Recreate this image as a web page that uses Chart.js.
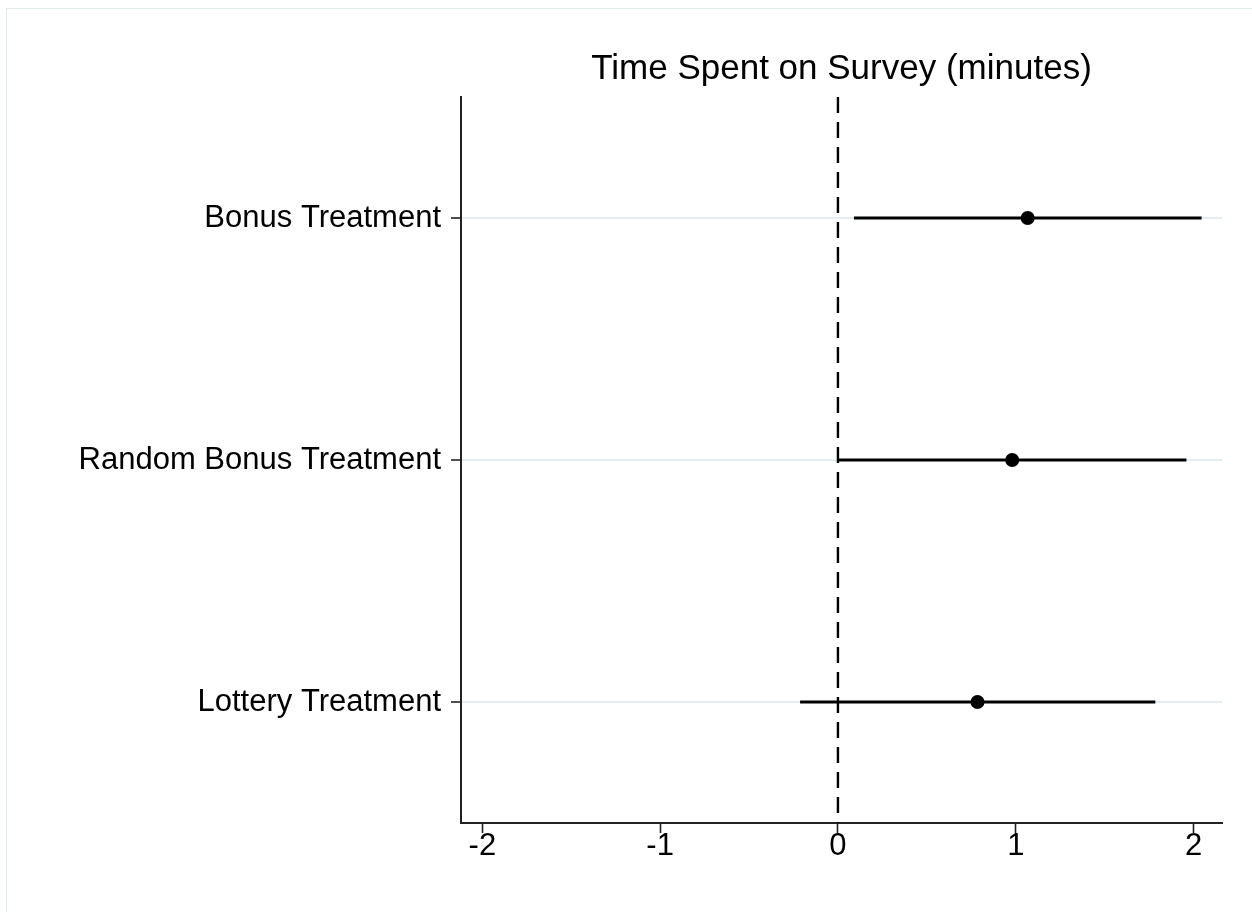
<!DOCTYPE html>
<html>
<head>
<meta charset="utf-8">
<title>Time Spent on Survey</title>
<script src="https://cdn.jsdelivr.net/npm/chart.js@4"></script>
<style>
  html, body { margin: 0; padding: 0; background: #fff; }
  #wrap { position: relative; width: 1252px; height: 912px; }
  #chart { display: block; }
  #frame {
    position: absolute; left: 6px; top: 8px; right: 0; bottom: 0;
    border-left: 1px solid #e3eded; border-top: 1px solid #e3eded;
    pointer-events: none;
  }
</style>
</head>
<body>
<div id="wrap">
  <canvas id="chart" width="1252" height="912"></canvas>
  <div id="frame"></div>
</div>
<script>
// ==========================================
//  COEFFICIENT PLOT: TIME SPENT ON SURVEY
// ==========================================

// --- data ---
var CATEGORIES = ['Bonus Treatment', 'Random Bonus Treatment', 'Lottery Treatment'];
var ESTIMATES  = [1.067, 0.98, 0.785];
var CI_LOW     = [0.09, 0.0, -0.213];
var CI_HIGH    = [2.045, 1.96, 1.785];
var X_TICKS    = [-2, -1, 0, 1, 2];
var X_MIN = -2.12, X_MAX = 2.16;

var FONT_NAME = "'Liberation Sans', Arial, Helvetica, sans-serif";
var INK       = '#000';
var AXIS      = '#222';
var ROW_GRID  = '#e4eef0';

// one line per confidence interval
var ciSets = CATEGORIES.map(function (c, i) {
  return {
    type:        'line',
    label:       c + ' CI',
    data:        [{ x: CI_LOW[i], y: i }, { x: CI_HIGH[i], y: i }],
    borderColor: INK,
    borderWidth: 2.8,
    pointRadius: 0,
    showLine:    true,
    order:       2,
  };
});

var zeroLine = {
  type:        'line',
  label:       'zero',
  data:        [{ x: 0, y: -0.5 }, { x: 0, y: CATEGORIES.length - 0.5 }],
  borderColor: INK,
  borderWidth: 2.4,
  borderDash:  [16, 9],
  pointRadius: 0,
  showLine:    true,
  order:       3,
};

var points = {
  type:                 'scatter',
  label:                'estimate',
  data:                 ESTIMATES.map(function (v, i) { return { x: v, y: i }; }),
  pointRadius:          7,
  pointBackgroundColor: INK,
  pointBorderColor:     INK,
  pointBorderWidth:     0,
  order:                1,
};

new Chart(document.getElementById('chart'), {
  type: 'scatter',
  data: { datasets: [zeroLine].concat(ciSets, [points]) },
  options: {
    responsive:          false,
    animation:           false,
    layout: { padding: { left: 0, right: 30, top: 0, bottom: 0 } },
    plugins: {
      legend:  { display: false },
      tooltip: { enabled: false },
      title: {
        display:  true,
        text:     'Time Spent on Survey (minutes)',
        color:    INK,
        fullSize: false,
        font:     { family: FONT_NAME, size: 35, weight: 'normal', lineHeight: 1.2 },
        padding:  { top: 48, bottom: 7 },
      },
    },
    scales: {
      x: {
        type: 'linear',
        min:  X_MIN,
        max:  X_MAX,
        afterBuildTicks: function (s) { s.ticks = X_TICKS.map(function (v) { return { value: v }; }); },
        afterFit: function (s) { s.height = 89; },
        grid:   { drawOnChartArea: false, drawTicks: true, tickLength: 10, tickColor: AXIS, tickWidth: 1.6 },
        border: { display: true, color: AXIS, width: 2 },
        ticks: {
          color:   INK,
          padding: -5,
          font:    { family: FONT_NAME, size: 31 },
          callback: function (v) { return String(v); },
        },
      },
      y: {
        type:    'linear',
        reverse: true,
        min:     -0.5,
        max:     CATEGORIES.length - 0.5,
        afterBuildTicks: function (s) { s.ticks = CATEGORIES.map(function (c, i) { return { value: i }; }); },
        afterFit: function (s) { s.width = 461; },
        grid:   { color: ROW_GRID, lineWidth: 2, drawTicks: true, tickLength: 10, tickColor: AXIS, tickWidth: 1.6 },
        border: { display: true, color: AXIS, width: 2 },
        ticks: {
          color:   INK,
          padding: 10,
          font:    { family: FONT_NAME, size: 31 },
          callback: function (v) { return CATEGORIES[v]; },
        },
      },
    },
  },
});
</script>
</body>
</html>
